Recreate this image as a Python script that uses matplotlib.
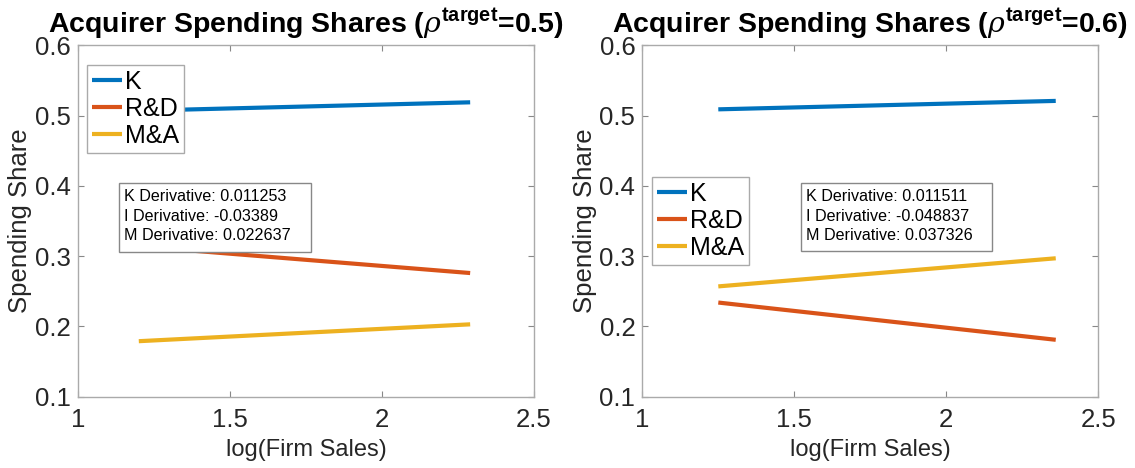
import numpy as np
import matplotlib.pyplot as plt
from matplotlib.patches import Rectangle

plt.rcParams['font.family'] = ['Liberation Sans', 'DejaVu Sans']
plt.rcParams['mathtext.fontset'] = 'custom'
plt.rcParams['mathtext.rm'] = 'Liberation Sans'
plt.rcParams['mathtext.it'] = 'DejaVu Serif:italic'
plt.rcParams['mathtext.bf'] = 'Liberation Sans:bold'

# log firm sales grid endpoints and fitted spending shares
x_05 = [1.20, 2.29]
k_05 = [0.507, 0.519]
rd_05 = [0.314, 0.276]
ma_05 = [0.179, 0.203]
deriv_05 = [0.011253, -0.03389, 0.022637]

x_06 = [1.25, 2.36]
k_06 = [0.509, 0.521]
rd_06 = [0.234, 0.181]
ma_06 = [0.257, 0.297]
deriv_06 = [0.011511, -0.048837, 0.037326]

labels = ['K', 'R&D', 'M&A']
colors = ['#0072BD', '#D95319', '#EDB120']
xticks = [1, 1.5, 2, 2.5]
yticks = [0.1, 0.2, 0.3, 0.4, 0.5, 0.6]

fig = plt.figure(figsize=(11.35, 4.68), dpi=100)
W, H = 1135, 468


def make_axes(x0, rho, xs, series, derivs, leg_box, txt_box):
    ax = fig.add_axes([x0 / W, 1 - 396.7 / H, 456 / W, 351.3 / H])
    for ys, lab, c in zip(series, labels, colors):
        ax.plot(xs, ys, color=c, lw=3, label=lab, solid_capstyle='butt')
    ax.set_xlim(1, 2.5)
    ax.set_ylim(0.1, 0.6)
    ax.set_xticks(xticks)
    ax.set_xticklabels(['1', '1.5', '2', '2.5'])
    ax.set_yticks(yticks)
    ax.tick_params(direction='in', length=4, width=0.8, color='#888888',
                   labelsize=18.5, labelcolor='#262626', top=True, right=True, pad=5)
    ax.tick_params(axis='x', pad=8)
    for s in ax.spines.values():
        s.set_color('#AAAAAA')
        s.set_linewidth(1.0)
    ax.set_xlabel('log(Firm Sales)', fontsize=17, color='#262626', labelpad=5)
    ax.set_ylabel('Spending Share', fontsize=18.5, color='#262626', labelpad=2)
    ax.set_title(r'Acquirer Spending Shares ($\rho^{\mathbf{target}}$=%s)' % rho,
                 fontsize=20.5, fontweight='bold', pad=9)

    # legend box placed in figure pixels
    lx0, ly0, lx1, ly1 = leg_box
    leg = ax.legend(loc='upper left', fontsize=18, frameon=True, fancybox=False,
                    edgecolor='#AAAAAA', framealpha=1, handlelength=1.2,
                    handletextpad=0.12, labelspacing=0.12, borderpad=0.2,
                    borderaxespad=0,
                    bbox_to_anchor=(lx0 / W, 1 - ly0 / H), bbox_transform=fig.transFigure)
    leg.get_frame().set_linewidth(1.0)

    # derivative annotation box
    tx0, ty0, tx1, ty1 = txt_box
    fig.patches.append(Rectangle((tx0 / W, 1 - ty1 / H), (tx1 - tx0) / W, (ty1 - ty0) / H,
                                 transform=fig.transFigure, facecolor='white',
                                 edgecolor='#888888', lw=1.0, zorder=3))
    txt = 'K Derivative: %s\nI Derivative: %s\nM Derivative: %s' % (
        f'{derivs[0]:g}', f'{derivs[1]:g}', f'{derivs[2]:g}')
    fig.text((tx0 + 5) / W, 1 - (ty0 + 6) / H, txt, fontsize=11.6, va='top', ha='left',
             linespacing=1.38, zorder=4)
    return ax


make_axes(78, '0.5', x_05, [k_05, rd_05, ma_05], deriv_05,
          (87, 65, 182, 150), (119, 183, 311, 252))
make_axes(642.3, '0.6', x_06, [k_06, rd_06, ma_06], deriv_06,
          (652, 177, 746, 267), (801, 183, 992, 251))

fig.savefig('out.png', dpi=100)
